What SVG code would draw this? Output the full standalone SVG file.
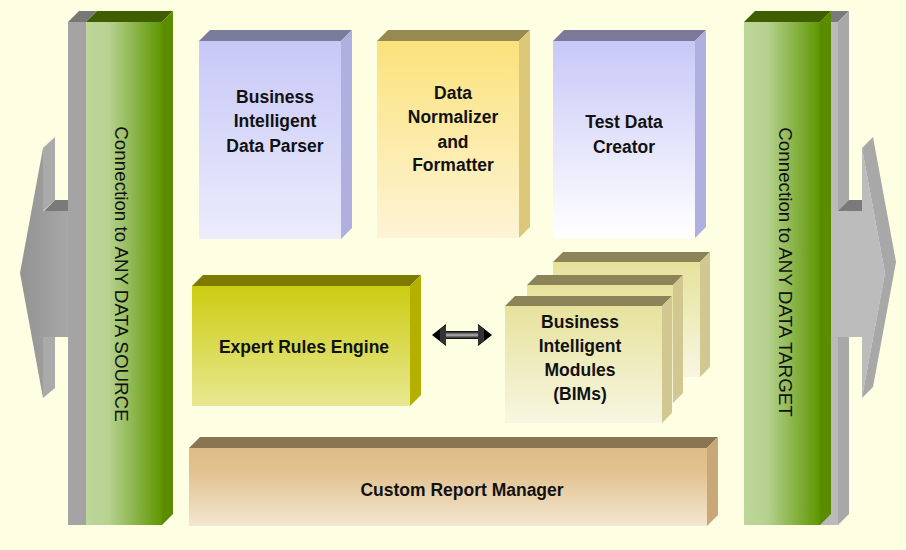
<svg xmlns="http://www.w3.org/2000/svg" width="906" height="550" viewBox="0 0 906 550">
<defs>
<linearGradient id="gGreen" x1="0" y1="0" x2="1" y2="0">
<stop offset="0" stop-color="#bed69a"/><stop offset="0.3" stop-color="#b6d290"/><stop offset="1" stop-color="#5e9600"/>
</linearGradient>
<linearGradient id="gGrayL" x1="0" y1="0" x2="1" y2="0">
<stop offset="0" stop-color="#939393"/><stop offset="1" stop-color="#a7a7a7"/>
</linearGradient>
<linearGradient id="gBlue" x1="0" y1="0" x2="0" y2="1">
<stop offset="0" stop-color="#c8c8f8"/><stop offset="1" stop-color="#ececfc"/>
</linearGradient>
<linearGradient id="gBlueW" x1="0" y1="0" x2="0" y2="1">
<stop offset="0" stop-color="#c8c8f8"/><stop offset="1" stop-color="#ffffff"/>
</linearGradient>
<linearGradient id="gGold" x1="0" y1="0" x2="0" y2="1">
<stop offset="0" stop-color="#fbe27c"/><stop offset="1" stop-color="#fdf4d6"/>
</linearGradient>
<linearGradient id="gOlive" x1="0" y1="0" x2="0" y2="1">
<stop offset="0" stop-color="#cccc12"/><stop offset="1" stop-color="#e8e892"/>
</linearGradient>
<linearGradient id="gBim" x1="0" y1="0" x2="0" y2="1">
<stop offset="0" stop-color="#e6e29c"/><stop offset="1" stop-color="#f8f6e2"/>
</linearGradient>
<linearGradient id="gTan" x1="0" y1="0" x2="0" y2="1">
<stop offset="0" stop-color="#dfbc86"/><stop offset="0.3" stop-color="#e2c290"/><stop offset="1" stop-color="#f3e6d0"/>
</linearGradient>
<linearGradient id="gShaft" x1="0" y1="0" x2="0" y2="1">
<stop offset="0" stop-color="#000"/><stop offset="0.35" stop-color="#777"/><stop offset="0.5" stop-color="#bbb"/><stop offset="0.65" stop-color="#777"/><stop offset="1" stop-color="#000"/>
</linearGradient>
</defs>
<style>
.t{font-family:"Liberation Sans",Arial,sans-serif;font-size:17.5px;font-weight:bold;fill:#111;text-anchor:middle}
.v{font-family:"Liberation Sans",Arial,sans-serif;font-size:18.8px;fill:#111;text-anchor:middle;dominant-baseline:central}
</style>
<rect width="906" height="550" fill="#fefee2"/>

<g id="left-arrow">
<polygon points="20,273 43,148 43,211 68,211 68,337 43,337 43,398" fill="url(#gGrayL)"/>
<polygon points="43,148 55,137 55,200 43,211" fill="#aaaaaa"/>
<polygon points="43,337 55,337 55,388 43,398" fill="#aaaaaa"/>
<polygon points="44,211 55,200 68,200 68,211" fill="#7a7a7a"/>
</g>
<g id="left-column">
<rect x="68" y="22" width="18" height="503" fill="#a4a4a4"/>
<polygon points="68,22 79,11 97,11 86,22" fill="#787878"/>
<rect x="86" y="22" width="76" height="503" fill="url(#gGreen)"/>
<polygon points="86,22 97,11 173,11 162,22" fill="#3f5e00"/>
<polygon points="162,22 173,11 173,514 162,525" fill="#5b8c00"/>
<text class="v" transform="translate(121,274) rotate(90)">Connection to ANY DATA SOURCE</text>
</g>

<g id="right-column">
<rect x="820" y="22" width="18" height="503" fill="#bababa"/>
<polygon points="820,22 831,11 849,11 838,22" fill="#7a7a7a"/>
<polygon points="838,22 849,11 849,514 838,525" fill="#a8a8a8"/>
<rect x="744" y="22" width="76" height="503" fill="url(#gGreen)"/>
<polygon points="744,22 755,11 831,11 820,22" fill="#3f5e00"/>
<polygon points="820,22 831,11 831,514 820,525" fill="#5b8c00"/>
<text class="v" transform="translate(785,272) rotate(90)">Connection to ANY DATA TARGET</text>
</g>
<g id="right-arrow">
<polygon points="831,211 862,211 862,148 885,273 862,398 862,337 831,337" fill="#bcbcbc"/>
<polygon points="862,148 873,137 896,262 873,387 862,398 885,273" fill="#a8a8a8"/>
<polygon points="838,211 849,200 862,200 862,211" fill="#7a7a7a"/>
</g>

<g id="parser">
<rect x="199" y="41" width="142" height="198" fill="url(#gBlue)"/>
<polygon points="199,41 210,30 352,30 341,41" fill="#7b7b9b"/>
<polygon points="341,41 352,30 352,228 341,239" fill="#b0b0e0"/>
<text class="t" x="275" y="103">Business</text>
<text class="t" x="275" y="127">Intelligent</text>
<text class="t" x="275" y="152">Data Parser</text>
</g>
<g id="normalizer">
<rect x="377" y="41" width="142" height="197" fill="url(#gGold)"/>
<polygon points="377,41 388,30 530,30 519,41" fill="#978a50"/>
<polygon points="519,41 530,30 530,227 519,238" fill="#dcc878"/>
<text class="t" x="453" y="99">Data</text>
<text class="t" x="453" y="123">Normalizer</text>
<text class="t" x="453" y="148">and</text>
<text class="t" x="453" y="171">Formatter</text>
</g>
<g id="creator">
<rect x="553" y="41" width="142" height="197" fill="url(#gBlueW)"/>
<polygon points="553,41 564,30 706,30 695,41" fill="#7a7a98"/>
<polygon points="695,41 706,30 706,227 695,238" fill="#b0b0e0"/>
<text class="t" x="624" y="128">Test Data</text>
<text class="t" x="624" y="153">Creator</text>
</g>
<g id="rules-engine">
<rect x="192" y="286" width="218" height="120" fill="url(#gOlive)"/>
<polygon points="192,286 203,275 421,275 410,286" fill="#7c7a00"/>
<polygon points="410,286 421,275 421,395 410,406" fill="#b5b000"/>
<text class="t" x="304" y="353">Expert Rules Engine</text>
</g>
<g id="bims">
<rect x="553" y="262" width="147" height="115" fill="url(#gBim)"/>
<polygon points="553,262 563,252 710,252 700,262" fill="#8a8458"/>
<polygon points="700,262 710,252 710,367 700,377" fill="#d0c890"/>
<rect x="527" y="285" width="146" height="118" fill="url(#gBim)"/>
<polygon points="527,285 537,275 683,275 673,285" fill="#8a8458"/>
<polygon points="673,285 683,275 683,393 673,403" fill="#d0c890"/>
<rect x="505" y="306" width="157" height="117" fill="url(#gBim)"/>
<polygon points="505,306 515,296 672,296 662,306" fill="#8a8458"/>
<polygon points="662,306 672,296 672,413 662,423" fill="#d0c890"/>
<text class="t" x="580" y="328">Business</text>
<text class="t" x="580" y="352">Intelligent</text>
<text class="t" x="580" y="376">Modules</text>
<text class="t" x="580" y="400">(BIMs)</text>
</g>
<g id="report-manager">
<rect x="189" y="448" width="518" height="78" fill="url(#gTan)"/>
<polygon points="189,448 200,437 718,437 707,448" fill="#8a7452"/>
<polygon points="707,448 718,437 718,515 707,526" fill="#c8a878"/>
<text class="t" x="462" y="496">Custom Report Manager</text>
</g>

<g id="connectors">
<path d="M432,335 L446,324 L446,331 L478,331 L478,324 L492,335 L478,346 L478,339 L446,339 L446,346 Z" fill="#000"/>
<rect x="446" y="331" width="32" height="8" fill="url(#gShaft)"/>
<path d="M440,329 L446,325 L446,345 L440,341 Z" fill="#333"/>
<path d="M484,329 L478,325 L478,345 L484,341 Z" fill="#333"/>
</g>
</svg>
